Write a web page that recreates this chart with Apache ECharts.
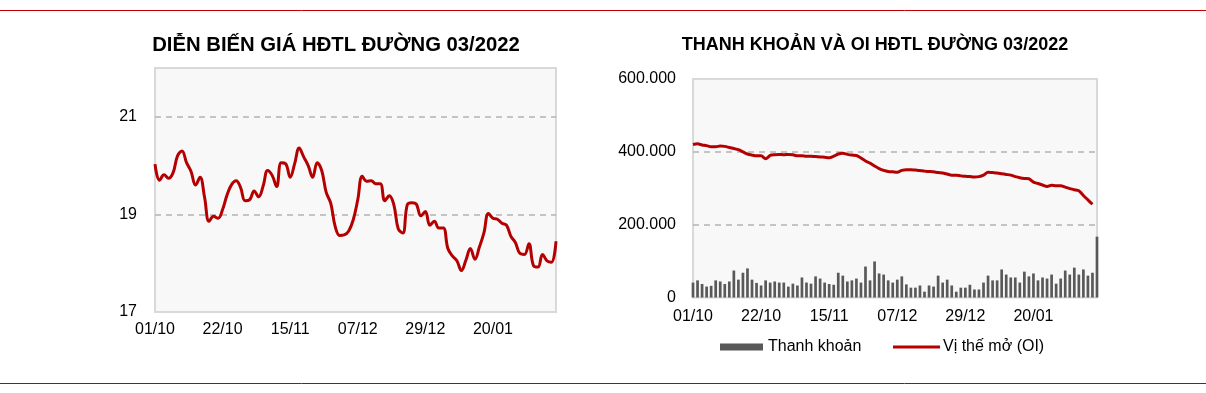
<!DOCTYPE html>
<html><head><meta charset="utf-8">
<script src="https://cdn.jsdelivr.net/npm/echarts@6/dist/echarts.min.js"></script>
<style>html,body{margin:0;padding:0;background:#fff;}#c{width:1206px;height:393px;}</style>
</head><body><div id="c"></div>
<script>
const dates = ['01/10','04/10','05/10','06/10','07/10','08/10','11/10','12/10','13/10','14/10','15/10','18/10','19/10','20/10','21/10','22/10',
'25/10','26/10','27/10','28/10','29/10','01/11','02/11','03/11','04/11','05/11','08/11','09/11','10/11','12/11','15/11',
'16/11','17/11','18/11','19/11','22/11','23/11','24/11','26/11','29/11','30/11','01/12','02/12','03/12','06/12','07/12',
'08/12','09/12','10/12','13/12','14/12','15/12','16/12','17/12','20/12','21/12','22/12','23/12','27/12','28/12','29/12',
'30/12','31/12','03/01','04/01','05/01','06/01','07/01','10/01','11/01','12/01','13/01','14/01','18/01','19/01','20/01',
'21/01','24/01','25/01','26/01','27/01','28/01','31/01','01/02','02/02','03/02','04/02','07/02','08/02','09/02'];
const tickLabels = ['01/10','22/10','15/11','07/12','29/12','20/01'];
const price = [20.03,19.70,19.81,19.74,19.85,20.20,20.30,20.06,19.88,19.60,19.76,19.35,18.86,18.96,18.92,19.10,
19.40,19.61,19.69,19.55,19.28,19.30,19.48,19.36,19.58,19.90,19.80,19.57,20.06,20.04,19.76,
20.04,20.36,20.18,20.00,19.76,20.06,19.90,19.45,19.23,18.75,18.57,18.58,18.66,18.89,19.30,
19.78,19.68,19.69,19.63,19.63,19.28,19.38,19.20,18.70,18.62,19.20,19.24,19.21,18.97,19.06,
18.78,18.86,18.72,18.72,18.30,18.15,18.05,17.85,18.06,18.30,18.08,18.33,18.62,19.02,18.92,
18.90,18.82,18.78,18.55,18.42,18.20,18.18,18.40,17.95,17.92,18.18,18.05,18.02,18.45];
const volume = [41000,47000,37000,30000,32000,47000,44000,37000,44000,74000,49000,68000,80000,49000,40000,33000,
47000,41000,44000,41000,41000,30000,38000,33000,55000,41000,38000,58000,52000,41000,37000,
35000,68000,60000,44000,47000,52000,41000,85000,47000,99000,66000,63000,47000,41000,49000,
58000,36000,27000,27000,33000,16000,33000,30000,60000,41000,49000,33000,16000,27000,27000,
35000,22000,22000,41000,60000,47000,47000,77000,63000,55000,55000,41000,71000,58000,66000,
47000,55000,52000,63000,38000,52000,74000,63000,82000,63000,77000,60000,68000,167000];
const openInterest = [420000,422000,419000,417000,414000,414000,416000,415000,412000,409000,406000,400000,394000,391000,389000,389000,
381000,390000,392000,393000,392000,393000,392000,389000,389000,388000,388000,387000,386000,385000,384000,
388000,394000,396000,393000,391000,390000,383000,375000,369000,361000,354000,349000,346000,345000,344000,
349000,351000,351000,350000,349000,347000,346000,345000,343000,342000,339000,336000,336000,334000,333000,
332000,331000,332000,336000,344000,343000,342000,340000,338000,336000,332000,329000,327000,326000,317000,
313000,309000,305000,308000,307000,307000,303000,299000,296000,293000,280000,268000,256000,null];
const titles = ['DIỄN BIẾN GIÁ HĐTL ĐƯỜNG 03/2022','THANH KHOẢN VÀ OI HĐTL ĐƯỜNG 03/2022'];
const seriesNames = ['Thanh khoản','Vị thế mở (OI)'];

const FONT = '"Liberation Sans", Arial, sans-serif';
const RED = '#b40000';
const labelInterval = (i, v) => tickLabels.indexOf(v) >= 0;
function fmtThousands(v){ return v === 0 ? '0' : String(v).replace(/\B(?=(\d{3})+(?!\d))/g, '.'); }

const chart = echarts.init(document.getElementById('c'), null, {renderer:'canvas'});
const splitLine = {show:true, showMinLine:false, showMaxLine:false, lineStyle:{color:'#b3b3b3', type:[6,5], width:1.5}};
const legendText = {fontFamily:FONT, fontSize:16, color:'#000'};
chart.setOption({
  animation:false,
  textStyle:{fontFamily:FONT},
  graphic:[
    {type:'line', shape:{x1:0,y1:10.5,x2:1206,y2:10.5}, style:{stroke:'#c00000', lineWidth:1}},
    {type:'line', shape:{x1:0,y1:383.5,x2:1206,y2:383.5}, style:{stroke:'#c00000', lineWidth:1}},
    {type:'text', x:336, y:45, style:{text:titles[0], font:'bold 20.3px '+FONT, fill:'#000', textAlign:'center', textVerticalAlign:'middle'}},
    {type:'text', x:875, y:45, style:{text:titles[1], font:'bold 18px '+FONT, fill:'#000', textAlign:'center', textVerticalAlign:'middle'}}
  ],
  grid:[
    {left:155, top:68, width:401, height:244, show:true, backgroundColor:'#f8f8f8', borderColor:'#d9d9d9', borderWidth:2, containLabel:false},
    {left:693, top:79, width:404, height:218.5, show:true, backgroundColor:'#f8f8f8', borderColor:'#d9d9d9', borderWidth:2, containLabel:false}
  ],
  legend:[
    {left:715, top:334, itemWidth:43, itemHeight:7, itemGap:5, padding:5,
     textStyle:legendText, data:[{name:seriesNames[0], icon:'rect'}]},
    {left:888, top:334, itemWidth:47, itemHeight:3, itemGap:5, padding:5,
     textStyle:Object.assign({}, legendText, {padding:[0,0,0,-2]}), data:[{name:seriesNames[1], icon:'rect'}]}
  ],
  xAxis:[
    {type:'category', gridIndex:0, data:dates, boundaryGap:false,
     axisLine:{show:false}, axisTick:{show:false}, splitLine:{show:false},
     axisLabel:{interval:labelInterval, color:'#000', fontSize:16, margin:10, fontFamily:FONT}},
    {type:'category', gridIndex:1, data:dates, boundaryGap:false,
     axisLine:{show:false}, axisTick:{show:false}, splitLine:{show:false},
     axisLabel:{interval:labelInterval, color:'#000', fontSize:16, margin:11, fontFamily:FONT}}
  ],
  yAxis:[
    {type:'value', gridIndex:0, min:17, max:22, interval:2,
     axisLine:{show:false}, axisTick:{show:false}, splitLine:splitLine,
     axisLabel:{showMaxLabel:false, color:'#000', fontSize:16, margin:18, fontFamily:FONT}},
    {type:'value', gridIndex:1, min:0, max:600000, interval:200000,
     axisLine:{show:false}, axisTick:{show:false}, splitLine:splitLine,
     axisLabel:{formatter:fmtThousands, color:'#000', fontSize:16, margin:17, fontFamily:FONT}}
  ],
  series:[
    {type:'line', name:'price', xAxisIndex:0, yAxisIndex:0, data:price, smooth:0.4, symbol:'none',
     lineStyle:{color:RED, width:3}, itemStyle:{color:RED}},
    {type:'bar', name:seriesNames[0], xAxisIndex:1, yAxisIndex:1, data:volume, barWidth:2.7,
     itemStyle:{color:'#595959'}},
    {type:'line', name:seriesNames[1], xAxisIndex:1, yAxisIndex:1, data:openInterest, smooth:0.3, symbol:'none',
     lineStyle:{color:RED, width:3}, itemStyle:{color:RED}}
  ]
});
</script></body></html>
